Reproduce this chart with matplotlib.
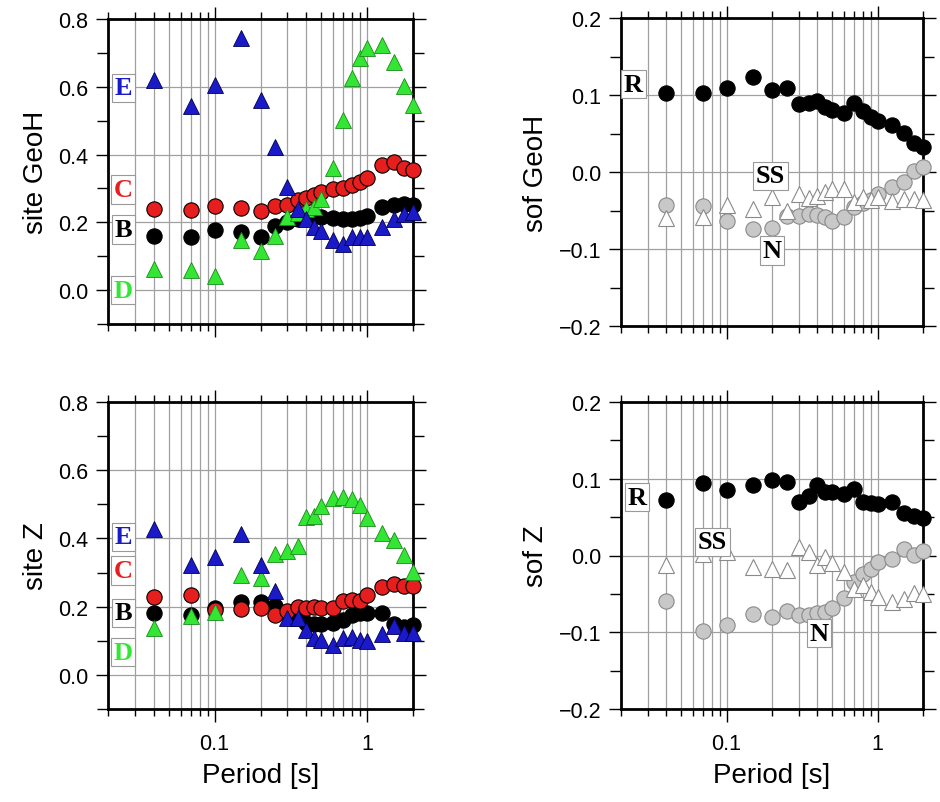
import numpy as np
import matplotlib
matplotlib.use("Agg")
import matplotlib.pyplot as plt
from matplotlib.ticker import LogLocator, FixedLocator, MultipleLocator, NullFormatter, FixedFormatter

# ---------------- data ----------------
periods = [0.04, 0.07, 0.1, 0.15, 0.2, 0.25, 0.3, 0.35, 0.4, 0.45, 0.5,
           0.6, 0.7, 0.8, 0.9, 1.0, 1.25, 1.5, 1.75, 2.0]

# site GeoH
geoh_B = [0.160, 0.156, 0.178, 0.172, 0.158, 0.190, 0.200, 0.210, 0.215, 0.220, 0.215,
          0.212, 0.210, 0.210, 0.212, 0.218, 0.245, 0.252, 0.255, 0.250]
geoh_C = [0.239, 0.236, 0.249, 0.241, 0.234, 0.248, 0.252, 0.266, 0.273, 0.281, 0.289,
          0.297, 0.302, 0.310, 0.319, 0.331, 0.370, 0.379, 0.359, 0.353]
geoh_D = [0.063, 0.060, 0.043, 0.148, 0.116, 0.160, 0.215, 0.228, 0.240, 0.245, 0.268,
          0.360, 0.503, 0.625, 0.684, 0.713, 0.723, 0.674, 0.601, 0.547]
geoh_E = [0.620, 0.542, 0.604, 0.745, 0.562, 0.423, 0.305, 0.240, 0.209, 0.185, 0.174,
          0.147, 0.137, 0.156, 0.158, 0.157, 0.186, 0.210, 0.224, 0.231]

# site Z
z_B = [0.180, 0.176, 0.197, 0.213, 0.213, 0.201, 0.180, 0.166, 0.151, 0.148, 0.148,
       0.151, 0.161, 0.176, 0.180, 0.180, 0.180, 0.150, 0.141, 0.147]
z_C = [0.229, 0.234, 0.190, 0.193, 0.195, 0.175, 0.188, 0.200, 0.195, 0.200, 0.197,
       0.196, 0.217, 0.221, 0.217, 0.234, 0.259, 0.265, 0.261, 0.260]
z_D = [0.137, 0.174, 0.185, 0.293, 0.285, 0.353, 0.364, 0.378, 0.463, 0.466, 0.495,
       0.519, 0.522, 0.517, 0.498, 0.460, 0.415, 0.395, 0.351, 0.302]
z_E = [0.429, 0.322, 0.346, 0.412, 0.322, 0.246, 0.166, 0.168, 0.132, 0.107, 0.102,
       0.088, 0.109, 0.112, 0.102, 0.098, 0.119, 0.144, 0.122, 0.124]

# sof GeoH
sg_R = [0.103, 0.102, 0.109, 0.123, 0.106, 0.109, 0.088, 0.089, 0.092, 0.085, 0.081,
        0.077, 0.090, 0.079, 0.072, 0.066, 0.061, 0.051, 0.038, 0.033]
sg_N = [-0.043, -0.044, -0.063, -0.074, -0.073, -0.057, -0.057, -0.055, -0.056, -0.059, -0.063,
        -0.058, -0.046, -0.040, -0.037, -0.029, -0.020, -0.013, 0.001, 0.007]
sg_SS = [-0.060, -0.058, -0.043, -0.048, -0.032, -0.050, -0.029, -0.034, -0.031, -0.026, -0.022,
         -0.022, -0.039, -0.033, -0.036, -0.032, -0.038, -0.035, -0.035, -0.036]

# sof Z
sz_R = [0.072, 0.095, 0.085, 0.092, 0.098, 0.096, 0.070, 0.078, 0.092, 0.083, 0.083,
        0.080, 0.087, 0.070, 0.069, 0.067, 0.070, 0.056, 0.051, 0.049]
sz_N = [-0.059, -0.098, -0.091, -0.076, -0.080, -0.072, -0.077, -0.077, -0.075, -0.073, -0.069,
        -0.056, -0.035, -0.024, -0.017, -0.008, -0.004, 0.008, 0.001, 0.006]
sz_SS = [-0.013, 0.002, 0.005, -0.015, -0.018, -0.019, 0.011, 0.005, -0.013, -0.002, -0.010,
         -0.021, -0.044, -0.038, -0.048, -0.054, -0.061, -0.057, -0.049, -0.050]

site_labels = ["E", "C", "B", "D"]
site_label_y_geoh = [0.597, 0.297, 0.179, 0.0]
site_label_y_z = [0.405, 0.306, 0.182, 0.067]
sof_labels = ["R", "SS", "N"]
sof_label_pos_geoh = [(0.0242, 0.114), (0.195, -0.005), (0.20, -0.102)]
sof_label_pos_z = [(0.0256, 0.076), (0.0804, 0.018), (0.408, -0.101)]

xticks_major = [0.1, 1]
xtick_labels = ["0.1", "1"]

# ---------------- style ----------------
BLUE = "#1a1ac8"
RED = "#e61e1e"
GREEN = "#33e633"
GRAYF = "#c8c8c8"

plt.rcParams['font.family'] = ['Liberation Sans', 'DejaVu Sans']
plt.rcParams['axes.unicode_minus'] = True

fig = plt.figure(figsize=(9.40, 8.03), dpi=100)

pos = {
    "tl": [108 / 940, 1 - 325 / 803, 305 / 940, 305 / 803],
    "tr": [621 / 940, 1 - 327 / 803, 302 / 940, 308 / 803],
    "bl": [108 / 940, 1 - 710 / 803, 305 / 940, 307 / 803],
    "br": [621 / 940, 1 - 710 / 803, 302 / 940, 307 / 803],
}

MS_C = 11
MS_T = 12


def style_axes(ax, ylim, ymaj, ymin, ylabel, ylabfmt, show_x):
    ax.set_xscale('log')
    ax.set_xlim(0.02, 2.0)
    ax.set_ylim(*ylim)
    ax.xaxis.set_major_locator(FixedLocator(xticks_major))
    ax.xaxis.set_minor_locator(LogLocator(base=10, subs=np.arange(2, 10), numticks=20))
    ax.xaxis.set_minor_formatter(NullFormatter())
    if show_x:
        ax.xaxis.set_major_formatter(FixedFormatter(xtick_labels))
        ax.set_xlabel("Period [s]", fontsize=20, labelpad=6)
    else:
        ax.xaxis.set_major_formatter(NullFormatter())
    ax.yaxis.set_major_locator(MultipleLocator(ymaj))
    ax.yaxis.set_minor_locator(MultipleLocator(ymin))
    ax.yaxis.set_major_formatter(plt.FuncFormatter(lambda v, p: ylabfmt(v)))
    ax.grid(True, which='both', axis='x', color='#a0a0a0', lw=0.9)
    ax.grid(True, which='major', axis='y', color='#a0a0a0', lw=0.9)
    ax.set_axisbelow(True)
    ax.tick_params(which='both', direction='out', top=True, right=True, colors='black',
                   labelsize=15.5, width=1.0)
    ax.tick_params(which='major', length=9)
    ax.tick_params(which='minor', length=5)
    ax.tick_params(axis='y', which='minor', length=8)
    ax.tick_params(axis='x', which='major', pad=8)
    ax.tick_params(axis='y', which='major', pad=5)
    for s in ax.spines.values():
        s.set_linewidth(2.0)
    ax.set_ylabel(ylabel, fontsize=20, labelpad=7)


def fmt_site(v):
    return f"{v:.1f}"


def fmt_sof(v):
    s = f"{abs(v):.1f}"
    if v < -1e-9:
        return "\u2212" + s
    return s


def label_box(ax, x, y, txt, color):
    ax.text(x, y, txt, color=color, fontsize=19, fontweight='bold',
            family=['Liberation Serif', 'DejaVu Serif'], ha='center', va='center',
            zorder=10,
            bbox=dict(boxstyle='square,pad=0.1', fc='white', ec='#999999', lw=0.8))


def site_panel(ax, B, C, D, E, label_y, show_x, ylabel):
    style_axes(ax, (-0.1, 0.8), 0.2, 0.1, ylabel, fmt_site, show_x)
    ax.plot(periods, B, 'o', ms=MS_C, mfc='black', mec='black', mew=0.8, zorder=3, clip_on=False)
    ax.plot(periods, C, 'o', ms=MS_C, mfc=RED, mec='black', mew=0.8, zorder=4, clip_on=False)
    ax.plot(periods, D, '^', ms=MS_T, mfc=GREEN, mec='#1a8a1a', mew=0.6, zorder=5, clip_on=False)
    ax.plot(periods, E, '^', ms=MS_T, mfc=BLUE, mec='#000050', mew=0.6, zorder=6, clip_on=False)
    cols = [BLUE, RED, "black", GREEN]
    for t, yv, c in zip(site_labels, label_y, cols):
        label_box(ax, 0.0252, yv, t, c)


def sof_panel(ax, R, SS, N, label_pos, show_x, ylabel):
    style_axes(ax, (-0.2, 0.2), 0.1, 0.05, ylabel, fmt_sof, show_x)
    ax.plot(periods, N, 'o', ms=MS_C, mfc=GRAYF, mec='#8a8a8a', mew=0.8, zorder=3, clip_on=False)
    ax.plot(periods, SS, '^', ms=MS_T, mfc='white', mec='#8a8a8a', mew=0.8, zorder=4, clip_on=False)
    ax.plot(periods, R, 'o', ms=MS_C, mfc='black', mec='black', mew=0.8, zorder=5, clip_on=False)
    for t, (xv, yv) in zip(sof_labels, label_pos):
        label_box(ax, xv, yv, t, "black")


ax_tl = fig.add_axes(pos["tl"])
site_panel(ax_tl, geoh_B, geoh_C, geoh_D, geoh_E, site_label_y_geoh, False, "site GeoH")
ax_bl = fig.add_axes(pos["bl"])
site_panel(ax_bl, z_B, z_C, z_D, z_E, site_label_y_z, True, "site Z")
ax_tr = fig.add_axes(pos["tr"])
sof_panel(ax_tr, sg_R, sg_SS, sg_N, sof_label_pos_geoh, False, "sof GeoH")
ax_br = fig.add_axes(pos["br"])
sof_panel(ax_br, sz_R, sz_SS, sz_N, sof_label_pos_z, True, "sof Z")

fig.savefig("out.png", dpi=100)
